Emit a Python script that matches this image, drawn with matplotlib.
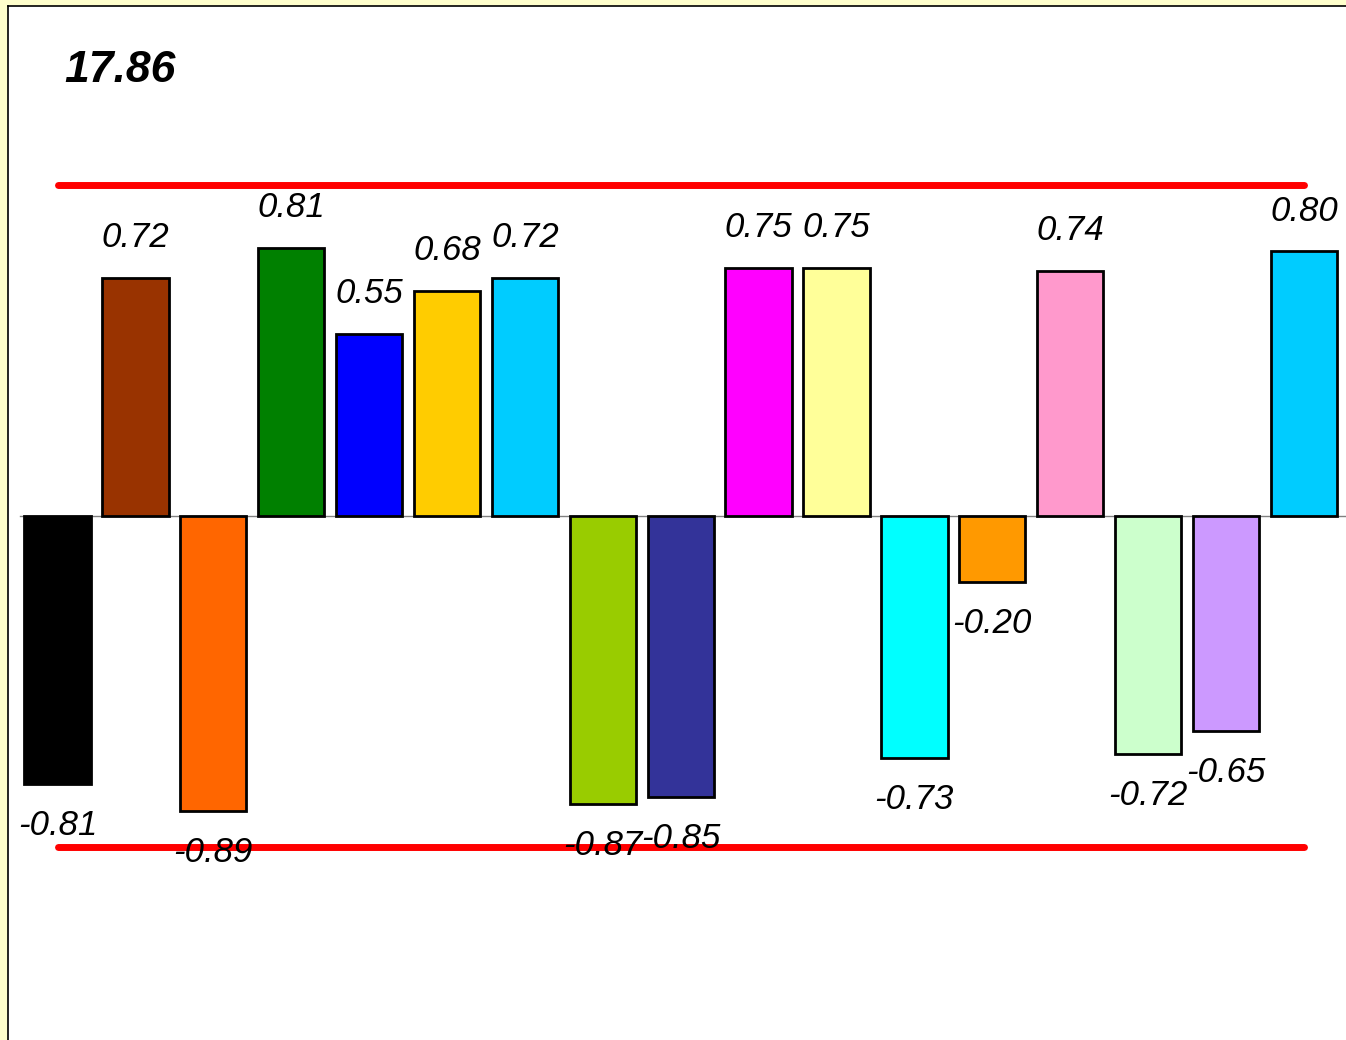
import matplotlib
matplotlib.use("Agg")
import matplotlib.pyplot as plt

# bar values
valores = [-0.81, 0.72, -0.89, 0.81, 0.55, 0.68, 0.72, -0.87, -0.85,
           0.75, 0.75, -0.73, -0.20, 0.74, -0.72, -0.65, 0.80]
cores = ["#000000", "#993300", "#FF6600", "#008000", "#0000FF", "#FFCC00",
         "#00CCFF", "#99CC00", "#333399", "#FF00FF", "#FFFF99", "#00FFFF",
         "#FF9900", "#FF99CC", "#CCFFCC", "#CC99FF", "#00CCFF"]
titulo = "17.86"
limite_sup = 1.0
limite_inf = -1.0

fonte = ["Liberation Sans Narrow", "Liberation Sans", "DejaVu Sans"]

W, H = 1346, 1040
fig = plt.figure(figsize=(W / 100, H / 100), dpi=100, facecolor="#FFFFCC")
ax = fig.add_axes([8 / W, 0, 1 - 8 / W, 1 - 6 / H])
ax.set_facecolor("white")

x = list(range(len(valores)))
ax.bar(x, valores, width=0.85, color=cores, edgecolor="black", linewidth=2, zorder=3)

# linha do zero
ax.plot([-0.48, 17], [0, 0], color="#808080", linewidth=1, zorder=2)

# limites em vermelho
ax.plot([0, 16], [limite_sup, limite_sup], color="red", linewidth=5,
        solid_capstyle="round", zorder=2)
ax.plot([0, 16], [limite_inf, limite_inf], color="red", linewidth=5,
        solid_capstyle="round", zorder=2)

for xi, v in zip(x, valores):
    if v >= 0:
        ax.annotate(f"{v:.2f}", (xi, v), xytext=(0, 17), textcoords="offset points",
                    ha="center", va="bottom", fontsize=25, style="italic",
                    family=fonte, zorder=4)
    else:
        ax.annotate(f"{v:.2f}", (xi, v), xytext=(0, -18), textcoords="offset points",
                    ha="center", va="top", fontsize=25, style="italic",
                    family=fonte, zorder=4)

ax.text(0.09, 1.347, titulo, fontsize=32, fontweight="bold", style="italic",
        family=fonte, ha="left", va="center")

ax.set_xlim((8 - 57.5) / 77.9, (W - 57.5) / 77.9)
ax.set_ylim((516 - H) / 331, (516 - 6) / 331)
ax.set_xticks([])
ax.set_yticks([])
ax.spines["right"].set_visible(False)
ax.spines["bottom"].set_visible(False)
ax.spines["left"].set_linewidth(1.2)
ax.spines["top"].set_linewidth(1.2)

fig.savefig("out.png", dpi=100, facecolor=fig.get_facecolor())
